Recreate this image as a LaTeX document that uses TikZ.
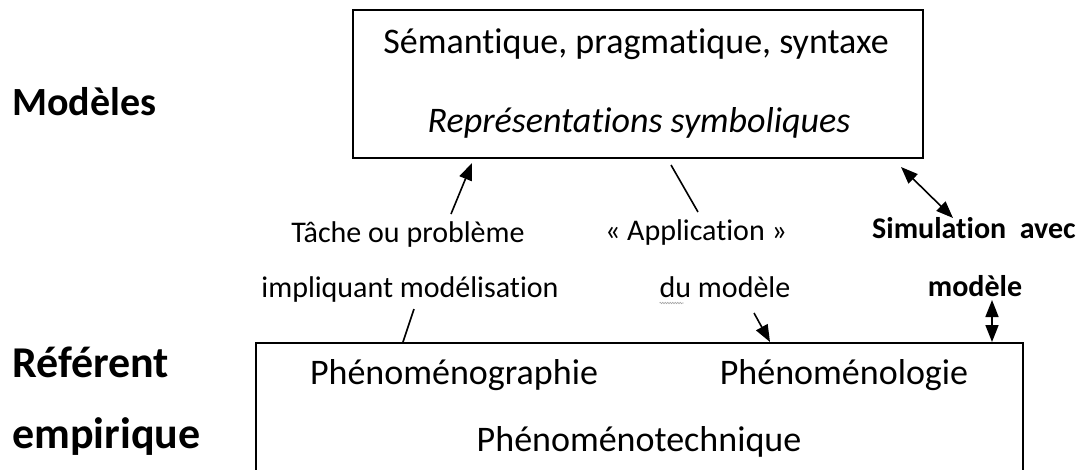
\documentclass[tikz,border=0pt]{standalone}
\usepackage{fontspec}
\setmainfont[Ligatures=NoCommon]{Carlito}
\usetikzlibrary{arrows.meta,decorations.pathmorphing}
\tikzset{
  box/.style={draw, line width=1.6pt, inner sep=0pt, anchor=north west},
  boxtxt/.style={font=\fontsize{36}{43}\selectfont, inner sep=0pt, anchor=base},
  boxit/.style={font=\itshape\fontsize{36}{43}\selectfont, inner sep=0pt, anchor=base},
  lbl/.style={font=\fontsize{30}{36}\selectfont, inner sep=0pt, anchor=base},
  bl/.style={font=\bfseries\fontsize{30}{36}\selectfont, inner sep=0pt, anchor=base},
  side/.style={font=\bfseries\fontsize{44}{52}\selectfont, inner sep=0pt, anchor=base west},
  conn/.style={line width=1.6pt},
  arr/.style={conn, -{Triangle[length=17pt,width=13pt]}},
  darr/.style={conn, {Triangle[length=17pt,width=13pt]}-{Triangle[length=17pt,width=13pt]}},
  squiggle/.style={gray!70, line width=0.6pt, decorate, decoration={snake, amplitude=0.7pt, segment length=2.5pt}}
}
\begin{document}
\begin{tikzpicture}[x=1pt,y=-1pt]
\useasboundingbox (0,0) rectangle (1086,469);
\fill[white] (0,0) rectangle (1086,469);
\clip (0,0) rectangle (1086,469);

% side labels
\node[side, font=\bfseries\fontsize{40}{48}\selectfont] (mod) at (12,115) {Modèles};
\node[side] (ref) at (12,377) {Référent};
\node[side] (emp) at (12,448) {empirique};

% top box
\node[box, minimum width=570pt, minimum height=148pt] (topbox) at (352,9) {};
\node[boxtxt] (sem) at (636,53) {Sémantique, pragmatique, syntaxe};
\node[boxit] (rep) at (639,132) {Représentations symboliques};

% bottom box
\node[box, minimum width=767pt, minimum height=170pt] (botbox) at (255,342) {};
\node[boxtxt] (pgr) at (454,384) {Phénoménographie};
\node[boxtxt] (plo) at (844,384) {Phénoménologie};
\node[boxtxt] (pte) at (639,451) {Phénoménotechnique};

% middle labels
\node[lbl] (tache) at (408,242) {Tâche ou problème};
\node[lbl] (impl) at (410,297) {impliquant modélisation};
\node[lbl] (appl) at (696,240) {« Application »};
\node[lbl] (dumod) at (725,297) {du modèle};
\node[bl, anchor=base west] (simu) at (872,238) {Simulation\ \ avec};
\node[bl] (bmod) at (975,296) {modèle};
\draw[squiggle] ([yshift=-6pt]dumod.base west) -- ++(24,0);

% connector end points
\coordinate (a1s) at (451,214);
\coordinate (a1e) at (472,163);
\coordinate (l2s) at (671,165);
\coordinate (l2e) at (698,212);
\coordinate (d3s) at (901,167);
\coordinate (d3e) at (953,218);
\coordinate (l4s) at (414,309);
\coordinate (a5s) at (754,313);
\coordinate (d6s) at (992,300);

\draw[arr] (a1s) -- (a1e);
\draw[conn] (l2s) -- (l2e);
\draw[darr] (d3s) -- (d3e);
\draw[conn] (l4s) -- (403,0 |- botbox.north);
\draw[arr] (a5s) -- (770,0 |- botbox.north);
\draw[darr] (d6s) -- (992,0 |- botbox.north);
\end{tikzpicture}
\end{document}
